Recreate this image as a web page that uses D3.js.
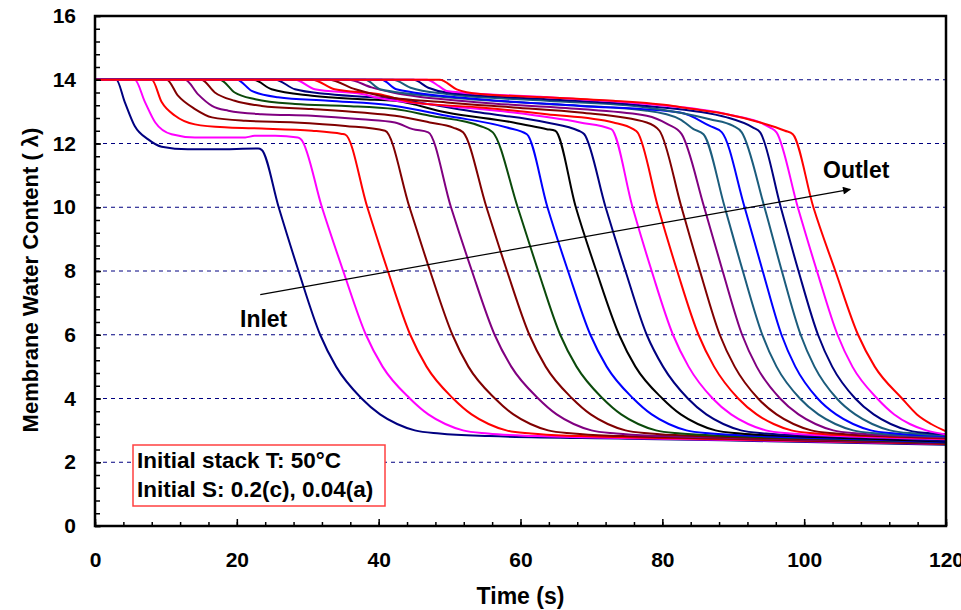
<!DOCTYPE html>
<html>
<head>
<meta charset="utf-8">
<script src="https://cdn.jsdelivr.net/npm/d3@7"></script>
<style>
  body { margin: 0; background: #fff; }
  text { font-family: "Liberation Sans", Arial, sans-serif; font-weight: bold; fill: #000; }
</style>
</head>
<body>
<svg id="chart" width="961" height="610"></svg>
<script>
// Axis ticks
const xTicks = [0, 20, 40, 60, 80, 100, 120];
const yTicks = [0, 2, 4, 6, 8, 10, 12, 14, 16];
const gridLevels = [2, 4, 6, 8, 10, 12, 14];

// Membrane water content (lambda) vs time (s), one series per cell from inlet to outlet
const cell01 = [[0,14],[3.0,14],[4.2,13.3],[5.6,12.55],[7.5,12.13],[9.4,11.9],[13.1,11.82],[16.9,11.82],[23.0,11.84],[23.5,11.8],[25.9,10.0],[28.7,8.0],[31.75,6.0],[34.0,5.0],[37.6,4.0],[40.2,3.5],[42.6,3.2],[45.1,3.0],[48.6,2.9],[55.6,2.82],[75,2.74],[95,2.66],[120,2.55]];
const cell02 = [[0,14],[5.6,14],[7.05,13.3],[8.5,12.66],[10.8,12.29],[14.1,12.19],[21.2,12.19],[22.5,12.24],[25.4,12.24],[28.6,12.19],[29.1,12.12],[32.0,10.0],[35.0,8.0],[38.2,6.0],[40.55,5.0],[44.4,4.0],[47.0,3.5],[49.4,3.2],[51.9,3.0],[55.4,2.9],[62.4,2.82],[80,2.74],[100,2.66],[120,2.57]];
const cell03 = [[0,14],[8.0,14],[9.4,13.3],[11.3,12.87],[14.1,12.6],[18.8,12.5],[23.5,12.47],[30.6,12.4],[34.8,12.3],[35.3,12.28],[38.4,10.0],[41.3,8.0],[44.45,6.0],[46.75,5.0],[50.5,4.0],[53.1,3.5],[55.5,3.2],[58.0,3.0],[61.5,2.9],[68.5,2.82],[85,2.74],[105,2.65],[120,2.58]];
const cell04 = [[0,14],[10.1,14],[11.7,13.5],[14.1,13.08],[16.5,12.82],[21.2,12.71],[28.2,12.66],[35.3,12.55],[40.9,12.4],[44.35,10.0],[47.25,8.0],[50.4,6.0],[52.65,5.0],[56.4,4.0],[59.0,3.5],[61.4,3.2],[63.9,3.0],[67.4,2.9],[74.4,2.82],[90,2.74],[108,2.64],[120,2.58]];
const cell05 = [[0,14],[12.7,14],[14.5,13.55],[16.5,13.18],[18.8,13.03],[23.5,12.92],[30.6,12.87],[37.6,12.76],[42.3,12.66],[44.8,12.45],[47.0,12.35],[50.2,10.0],[53.15,8.0],[56.35,6.0],[58.7,5.0],[62.5,4.0],[65.1,3.5],[67.5,3.2],[70.0,3.0],[73.5,2.9],[80.5,2.82],[95,2.74],[110,2.65],[120,2.6]];
const cell06 = [[0,14],[15.0,14],[16.9,13.6],[19.7,13.34],[23.5,13.18],[30.6,13.08],[37.6,12.97],[42.3,12.87],[47.2,12.66],[50.5,12.5],[51.9,12.35],[55.2,10.0],[58.1,8.0],[61.25,6.0],[63.55,5.0],[67.3,4.0],[69.9,3.5],[72.3,3.2],[74.8,3.0],[78.3,2.9],[85.3,2.82],[100,2.73],[120,2.61]];
const cell07 = [[0,14],[17.6,14],[19.7,13.6],[22.6,13.39],[28.2,13.24],[35.3,13.18],[42.3,13.08],[47.2,12.87],[54.3,12.55],[56.1,12.35],[59.6,10.0],[62.5,8.0],[65.6,6.0],[67.9,5.0],[71.6,4.0],[74.2,3.5],[76.6,3.2],[79.1,3.0],[82.6,2.9],[89.6,2.82],[105,2.72],[120,2.62]];
const cell08 = [[0,14],[20.0,14],[22.1,13.65],[25.8,13.45],[32.9,13.34],[42.3,13.18],[49.6,12.87],[58.1,12.5],[60.9,12.29],[63.8,10.0],[66.7,8.0],[69.85,6.0],[72.15,5.0],[75.9,4.0],[78.5,3.5],[80.9,3.2],[83.4,3.0],[86.9,2.9],[93.9,2.82],[108,2.72],[120,2.63]];
const cell09 = [[0,14],[22.3,14],[24.9,13.7],[30.6,13.5],[37.6,13.39],[42.3,13.34],[49.6,12.97],[59.0,12.66],[63.7,12.45],[64.9,12.4],[67.8,10.0],[70.7,8.0],[73.9,6.0],[76.2,5.0],[80.0,4.0],[82.6,3.5],[85.0,3.2],[87.5,3.0],[91.0,2.9],[98.0,2.82],[110,2.73],[120,2.65]];
const cell10 = [[0,14],[25.4,14],[28.2,13.7],[32.9,13.55],[42.3,13.39],[54.3,12.97],[63.7,12.66],[68.2,12.4],[69.0,12.29],[72.0,10.0],[74.8,8.0],[77.8,6.0],[80.1,5.0],[83.6,4.0],[86.2,3.5],[88.6,3.2],[91.1,3.0],[94.6,2.9],[101.6,2.82],[112,2.75],[120,2.67]];
const cell11 = [[0,14],[28.2,14],[31.0,13.7],[37.6,13.55],[40.2,13.42],[49.6,13.18],[59.0,12.97],[68.4,12.66],[72.8,12.45],[75.8,10.0],[78.5,8.0],[81.5,6.0],[83.7,5.0],[87.1,4.0],[89.7,3.5],[92.1,3.2],[94.6,3.0],[98.1,2.9],[105.1,2.82],[120,2.72]];
const cell12 = [[0,14],[30.6,14],[33.8,13.7],[39.9,13.55],[44.8,13.29],[54.3,13.13],[63.7,12.92],[73.1,12.66],[75.9,12.45],[76.5,12.35],[79.4,10.0],[82.1,8.0],[85.1,6.0],[87.3,5.0],[90.7,4.0],[93.3,3.5],[95.7,3.2],[98.2,3.0],[101.7,2.9],[108.7,2.82],[120,2.74]];
const cell13 = [[0,14],[32.9,14],[36.7,13.7],[40.2,13.5],[49.6,13.29],[59.0,13.13],[68.4,12.97],[77.8,12.66],[79.6,12.4],[82.7,10.0],[85.3,8.0],[88.1,6.0],[90.2,5.0],[93.5,4.0],[96.1,3.5],[98.5,3.2],[101.0,3.0],[104.5,2.9],[111.5,2.82],[120,2.76]];
const cell14 = [[0,14],[35.7,14],[39.0,13.76],[42.0,13.6],[54.3,13.29],[68.4,13.08],[77.8,12.87],[80.8,12.6],[82.7,12.3],[85.9,10.0],[88.5,8.0],[91.25,6.0],[93.3,5.0],[96.6,4.0],[99.2,3.5],[101.6,3.2],[104.1,3.0],[107.6,2.9],[114.6,2.82],[120,2.78]];
const cell15 = [[0,14],[38.1,14],[40.2,13.7],[49.6,13.45],[63.7,13.24],[77.8,13.03],[82.5,12.76],[84.4,12.45],[85.8,12.29],[88.8,10.0],[91.35,8.0],[94.1,6.0],[96.1,5.0],[99.4,4.0],[102.0,3.5],[104.4,3.2],[106.9,3.0],[110.4,2.9],[117.4,2.82],[120,2.81]];
const cell16 = [[0,14],[40.4,14],[42.5,13.7],[54.3,13.39],[68.4,13.18],[82.5,12.97],[86.7,12.55],[88.4,12.35],[91.6,10.0],[94.15,8.0],[96.8,6.0],[98.75,5.0],[101.9,4.0],[104.5,3.5],[106.9,3.2],[109.4,3.0],[112.9,2.9],[120,2.82]];
const cell17 = [[0,14],[42.0,14],[44.5,13.75],[49.6,13.55],[63.7,13.34],[77.8,13.13],[86.7,12.76],[90.0,12.55],[91.2,12.35],[94.4,10.0],[96.85,8.0],[99.5,6.0],[101.45,5.0],[104.6,4.0],[107.2,3.5],[109.6,3.2],[112.1,3.0],[115.6,2.9],[120,2.85]];
const cell18 = [[0,14],[44.9,14],[47.0,13.75],[49.6,13.6],[63.7,13.39],[77.8,13.18],[89.1,12.82],[92.8,12.5],[93.8,12.35],[96.7,10.0],[99.2,8.0],[101.95,6.0],[103.95,5.0],[107.2,4.0],[109.8,3.5],[112.2,3.2],[114.7,3.0],[118.2,2.9],[120,2.88]];
const cell19 = [[0,14],[46.8,14],[48.5,13.8],[49.6,13.65],[63.7,13.45],[77.8,13.24],[89.1,12.92],[95.2,12.5],[96.1,12.35],[99.1,10.0],[101.8,8.0],[104.7,6.0],[106.8,5.0],[110.3,4.0],[112.7,3.5],[114.9,3.2],[117.2,3.0],[120,2.87]];
const cell20 = [[0,14],[48.6,14],[51.0,13.7],[54.3,13.55],[63.7,13.45],[73.1,13.34],[81.5,13.18],[84.4,13.08],[89.1,12.92],[93.8,12.66],[97.3,12.4],[98.4,12.29],[101.3,10.0],[104.4,8.0],[107.6,6.0],[109.95,5.0],[113.8,4.0],[115.9,3.5],[117.9,3.2],[120,2.97]];

const cellSeries = [cell01, cell02, cell03, cell04, cell05, cell06, cell07, cell08, cell09, cell10,
                    cell11, cell12, cell13, cell14, cell15, cell16, cell17, cell18, cell19, cell20];
const cellColors = ["#000080", "#FF00FF", "#FF0000", "#800000", "#800080", "#800000", "#0B4A0B", "#0000FF", "#000000", "#000080",
                    "#FF00FF", "#FF0000", "#800000", "#800080", "#1B5C7C", "#0000FF", "#1B5C7C", "#000080", "#FF00FF", "#FF0000"];

// Annotation: inlet-to-outlet arrow (time, lambda)
const arrowStart = [23.3, 7.26];
const arrowEnd = [106.5, 10.56];
const noteLines = ["Initial stack T: 50\u00B0C", "Initial S: 0.2(c), 0.04(a)"];

const W = 961, H = 610;
const margin = { left: 95, right: 15, top: 16, bottom: 84 };
const svg = d3.select("#chart");

const x = d3.scaleLinear().domain([0, 120]).range([margin.left, W - margin.right]);
const y = d3.scaleLinear().domain([0, 16]).range([H - margin.bottom, margin.top]);

// Dashed horizontal gridlines
svg.append("g").selectAll("line").data(gridLevels).join("line")
  .attr("x1", x(0)).attr("x2", x(120))
  .attr("y1", d => y(d)).attr("y2", d => y(d))
  .attr("stroke", "#000080").attr("stroke-width", 1)
  .attr("stroke-dasharray", "4,4");

// Curves
const line = d3.line().x(d => x(d[0])).y(d => y(d[1])).curve(d3.curveMonotoneX);
const defs = svg.append("defs");
defs.append("clipPath").attr("id", "plotClip")
  .append("rect").attr("x", x(0)).attr("y", y(16)).attr("width", x(120) - x(0)).attr("height", y(0) - y(16));
const curves = svg.append("g").attr("clip-path", "url(#plotClip)");
cellSeries.forEach((s, i) => {
  curves.append("path").datum(s)
    .attr("d", line)
    .attr("fill", "none")
    .attr("stroke", cellColors[i])
    .attr("stroke-width", 2)
    .attr("stroke-linejoin", "round");
});

// Axes: minor ticks, then major ticks with labels
const xMinor = d3.axisBottom(x).tickValues(d3.range(0, 121, 4)).tickSize(-4).tickFormat("");
const xMajor = d3.axisBottom(x).tickValues(xTicks).tickSize(-7).tickPadding(26).tickFormat(d3.format("d"));
const yMinor = d3.axisLeft(y).tickValues(d3.range(0, 16.01, 0.4)).tickSize(-5).tickFormat("");
const yMajor = d3.axisLeft(y).tickValues(yTicks).tickSize(-6).tickPadding(19).tickFormat(d3.format("d"));

function styleAxis(g) {
  g.select(".domain").remove();
  g.selectAll(".tick line").attr("stroke", "#000").attr("stroke-width", 1.5);
  g.selectAll(".tick text").attr("font-size", 21)
    .attr("font-family", "'Liberation Sans', Arial, sans-serif").attr("font-weight", "bold").attr("fill", "#000");
}
svg.append("g").attr("transform", `translate(0,${y(0)})`).call(xMinor).call(styleAxis);
svg.append("g").attr("transform", `translate(0,${y(0)})`).call(xMajor).call(styleAxis);
svg.append("g").attr("transform", `translate(${x(0)},0)`).call(yMinor).call(styleAxis);
svg.append("g").attr("transform", `translate(${x(0)},0)`).call(yMajor).call(styleAxis);

// Plot frame
svg.append("rect")
  .attr("x", x(0)).attr("y", y(16))
  .attr("width", x(120) - x(0)).attr("height", y(0) - y(16))
  .attr("fill", "none").attr("stroke", "#000").attr("stroke-width", 2.5);

// Axis titles
svg.append("text").attr("x", (x(0) + x(120)) / 2).attr("y", 604)
  .attr("text-anchor", "middle").attr("font-size", 23).text("Time (s)");
svg.append("text").attr("transform", "translate(38,280) rotate(-90)")
  .attr("text-anchor", "middle").attr("font-size", 22).text("Membrane Water Content ( \u03BB)");

// Arrow from inlet to outlet
defs.append("marker").attr("id", "arrowHead")
  .attr("viewBox", "0 0 10 10").attr("refX", 9).attr("refY", 5)
  .attr("markerWidth", 10).attr("markerHeight", 8).attr("markerUnits", "userSpaceOnUse")
  .attr("orient", "auto")
  .append("path").attr("d", "M0,0 L10,5 L0,10 Z").attr("fill", "#000");
svg.append("line")
  .attr("x1", x(arrowStart[0])).attr("y1", y(arrowStart[1]))
  .attr("x2", x(arrowEnd[0])).attr("y2", y(arrowEnd[1]))
  .attr("stroke", "#000").attr("stroke-width", 1.2)
  .attr("marker-end", "url(#arrowHead)");

svg.append("text").attr("x", 240).attr("y", 327).attr("font-size", 23).text("Inlet");
svg.append("text").attr("x", 823).attr("y", 178).attr("font-size", 23).text("Outlet");

// Condition note box
svg.append("rect").attr("x", 133).attr("y", 445).attr("width", 252).attr("height", 61)
  .attr("fill", "#fff").attr("stroke", "#FF4040").attr("stroke-width", 1.5);
svg.append("g").selectAll("text").data(noteLines).join("text")
  .attr("x", 137).attr("y", (d, i) => 468 + i * 29)
  .attr("font-size", 22.5).text(d => d);
</script>
</body>
</html>
